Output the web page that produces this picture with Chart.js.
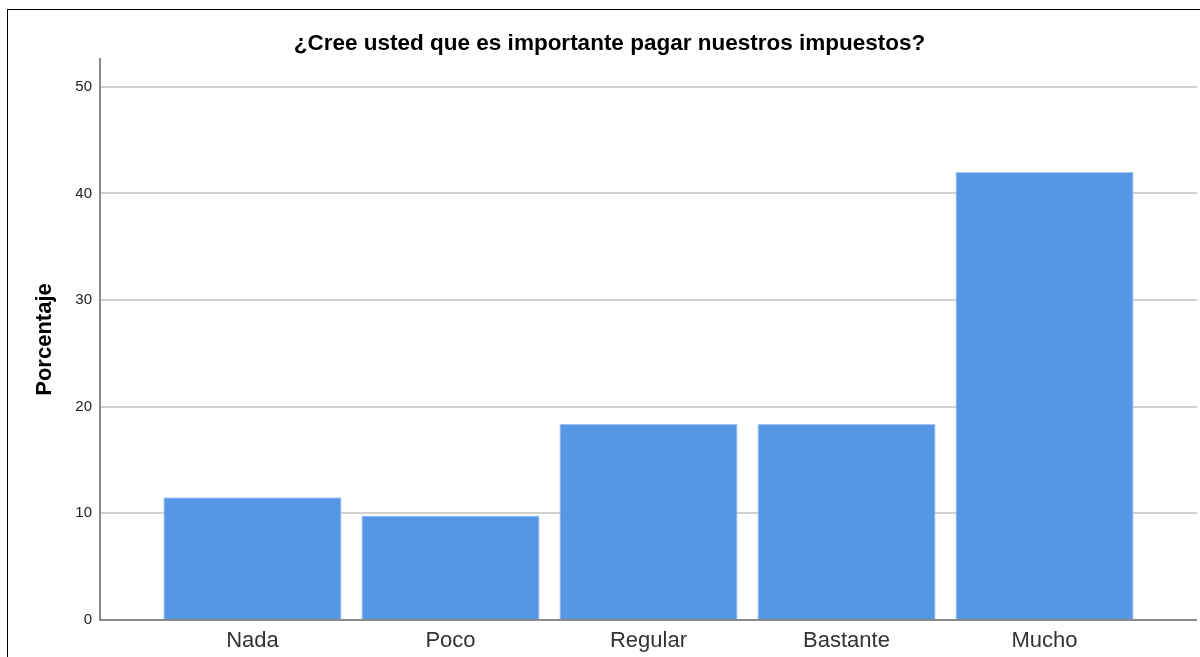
<!DOCTYPE html>
<html>
<head>
<meta charset="utf-8">
<script src="https://cdn.jsdelivr.net/npm/chart.js@4"></script>
<style>
  html, body { margin: 0; padding: 0; background: #fff; overflow: hidden; width: 1200px; height: 657px; }
  #frame { position: absolute; left: 7px; top: 9px; width: 1202px; height: 660px; border-top: 1px solid #000; border-left: 1px solid #000; }
  #c { display: block; }
</style>
</head>
<body>
<div id="frame"><canvas id="c" width="1189" height="660"></canvas></div>
<script>
const titleText = '¿Cree usted que es importante pagar nuestros impuestos?';
const yTitle = 'Porcentaje';
const categories = ['Nada', 'Poco', 'Regular', 'Bastante', 'Mucho'];
const percentages = [11.5, 9.8, 18.4, 18.4, 42.0];
const yTicks = [0, 10, 20, 30, 40, 50];

const FONT = "'Liberation Sans', Arial, sans-serif";

new Chart(document.getElementById('c'), {
  type: 'bar',
  data: {
    datasets: [{
      data: percentages.map((v, i) => ({ x: i, y: v })),
      backgroundColor: '#5596E5',
      borderColor: '#A9C9F1',
      borderWidth: 1,
      categoryPercentage: 1,
      barPercentage: 0.9
    }]
  },
  options: {
    responsive: false,
    animation: false,
    layout: { padding: { left: 14, right: 0, top: 0, bottom: 0 } },
    plugins: {
      legend: { display: false },
      tooltip: { enabled: false },
      title: {
        display: true,
        text: titleText,
        color: '#000',
        font: { family: FONT, size: 22.5, weight: 'bold' },
        padding: { top: 20, bottom: 2 }
      }
    },
    scales: {
      x: {
        type: 'linear',
        offset: false,
        min: -0.77,
        max: 4.77,
        grid: { display: true, offset: false, color: 'rgba(0,0,0,0)', drawTicks: false },
        border: { display: true, color: '#8a8a8a', width: 2 },
        ticks: {
          stepSize: 1,
          includeBounds: false,
          autoSkip: false,
          maxRotation: 0,
          padding: 8,
          color: '#333',
          font: { family: FONT, size: 22 },
          callback: (v) => (Number.isInteger(v) && categories[v] !== undefined) ? categories[v] : ''
        },
        afterFit: (s) => { s.height = 50; }
      },
      y: {
        min: 0,
        max: 52.6,
        grid: { color: '#d0d0d0', lineWidth: 2, drawTicks: false },
        border: { display: true, color: '#8a8a8a', width: 2 },
        ticks: {
          stepSize: 10,
          includeBounds: false,
          padding: 8,
          color: '#222',
          font: { family: FONT, size: 15 }
        },
        afterBuildTicks: (s) => { s.ticks = yTicks.map(v => ({ value: v })); },
        title: {
          display: true,
          text: yTitle,
          color: '#000',
          font: { family: FONT, size: 22, weight: 'bold' },
          padding: { top: 10, bottom: 0 }
        },
        afterFit: (s) => { s.width = 78; }
      }
    }
  }
});
</script>
</body>
</html>
